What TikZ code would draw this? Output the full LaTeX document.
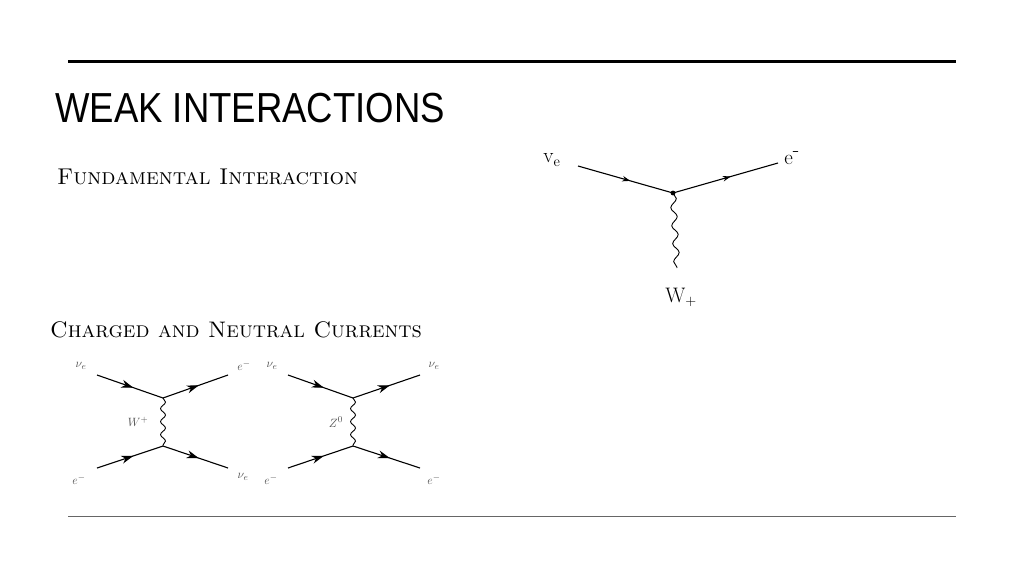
\documentclass[tikz,border=0pt]{standalone}
\usepackage{fontspec}
\newfontfamily\titlefont{Liberation Sans}
\usetikzlibrary{decorations.markings,decorations.pathmorphing,arrows.meta}
\tikzset{fermion/.style={draw,line width=1.1pt,postaction={decorate},
           decoration={markings,mark=at position 0.55 with {\arrow{Stealth[length=8pt,width=5.5pt]}}}},
         fermionsmall/.style={draw,line width=1.1pt,postaction={decorate},
           decoration={markings,mark=at position 0.55 with {\arrow{Stealth[length=12pt,width=8pt]}}}},
         boson/.style={draw,line width=0.9pt,decorate,decoration={snake,amplitude=3pt,segment length=18pt}},
         particle/.style={inner sep=0pt,font=\fontsize{21}{21}\selectfont},
         smalllabel/.style={inner sep=0pt,text=black!70,font=\fontsize{13}{13}\selectfont},
        }
\begin{document}
\begin{tikzpicture}[x=1pt,y=-1pt]
        \useasboundingbox (0,0) rectangle (1024,576);
        \draw[line width=3pt] (68,61) -- (956,61);
        \draw[black!60,line width=1pt] (68,516) -- (956,516);
        \node[anchor=base west,inner sep=0pt,xscale=0.87] (title) at (55,122)
           {\titlefont\fontsize{42}{42}\selectfont WEAK INTERACTIONS};
        \node[anchor=base west,inner sep=0pt] (fundamental) at (57,184)
           {\fontsize{22.8}{22.8}\selectfont\textsc{Fundamental Interaction}};
        \node[anchor=base west,inner sep=0pt] (currents) at (50,337)
           {\fontsize{22.5}{22.5}\selectfont\textsc{Charged and Neutral Currents}};

        % vertex diagram
        \coordinate (vin) at (578,166);
        \coordinate (vtx) at (673,193);
        \coordinate (vout) at (778,163);
        \coordinate (wend) at (677,268);
        \draw[fermion] (vin) -- (vtx);
        \draw[fermion] (vtx) -- (vout);
        \draw[boson] (vtx) -- (wend);
        \fill (vtx) circle (2.4pt);
        \node[particle] (nue) at (552,160) {$\mathrm{v}_{\mathrm{e}}$};
        \node[particle] (elec) at (792,158) {$\mathrm{e}^{\mbox{-}}$};
        \node[particle] (wplus) at (681,297) {$\mathrm{W}_{+}$};

        % charged current
        \coordinate (ca) at (97,375);
        \coordinate (cu) at (163,398);
        \coordinate (cb) at (228,375);
        \coordinate (cc) at (97,468);
        \coordinate (cl) at (163,446);
        \coordinate (cd) at (228,468);
        \draw[fermionsmall] (ca) -- (cu);
        \draw[fermionsmall] (cu) -- (cb);
        \draw[fermionsmall] (cc) -- (cl);
        \draw[fermionsmall] (cl) -- (cd);
        \draw[boson,decoration={amplitude=2.5pt,segment length=13pt}] (cu) -- (cl);
        \node[smalllabel] at (81,366) {$\nu_e$};
        \node[smalllabel] at (244,366) {$e^-$};
        \node[smalllabel] at (138,422) {$W^+$};
        \node[smalllabel] at (79,480) {$e^-$};
        \node[smalllabel] at (243,477) {$\nu_e$};

        % neutral current
        \coordinate (na) at (288,375);
        \coordinate (nu) at (353,398);
        \coordinate (nb) at (420,375);
        \coordinate (nc) at (288,468);
        \coordinate (nl) at (353,446);
        \coordinate (nd) at (420,468);
        \draw[fermionsmall] (na) -- (nu);
        \draw[fermionsmall] (nu) -- (nb);
        \draw[fermionsmall] (nc) -- (nl);
        \draw[fermionsmall] (nl) -- (nd);
        \draw[boson,decoration={amplitude=2.5pt,segment length=13pt}] (nu) -- (nl);
        \node[smalllabel] at (272,366) {$\nu_e$};
        \node[smalllabel] at (434,366) {$\nu_e$};
        \node[smalllabel] at (336,422) {$Z^0$};
        \node[smalllabel] at (271,480) {$e^-$};
        \node[smalllabel] at (434,480) {$e^-$};
\end{tikzpicture}
\end{document}
